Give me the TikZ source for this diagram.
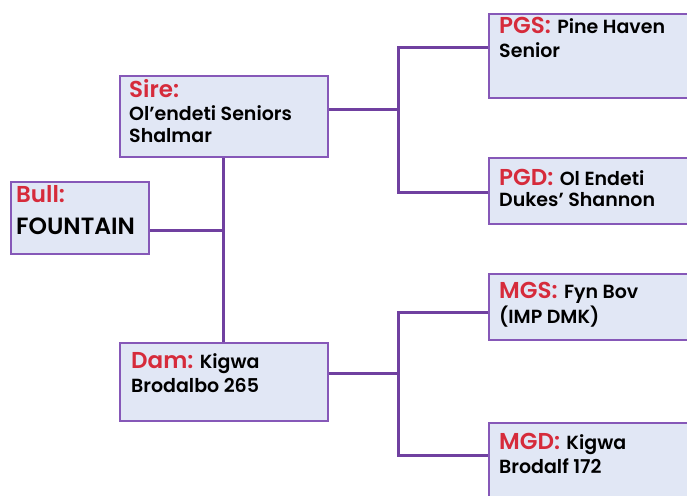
\documentclass[tikz,border=0pt]{standalone}
\usepackage{fontspec}
\setmainfont{Poppins}
\IfFontExistsTF{Poppins SemiBold}
  {\newfontfamily\blackfont{Poppins SemiBold}}
  {\newfontfamily\blackfont{Poppins}[UprightFont=*-Bold]}
\definecolor{lineC}{HTML}{7040A0}
\definecolor{borderC}{HTML}{8658B8}
\definecolor{fillC}{HTML}{E1E7F5}
\definecolor{redC}{HTML}{D62B3B}
\tikzset{
  box/.style={draw=borderC, line width=2pt, fill=fillC, anchor=north west, inner sep=0pt},
  conn/.style={draw=lineC, line width=3pt},
  lbl/.style={anchor=base west, inner sep=0pt, text=redC, font=\blackfont\fontsize{23}{28}\selectfont},
  txt/.style={anchor=base west, inner sep=0pt, text=black, font=\blackfont\fontsize{19}{23}\selectfont},
}
\begin{document}
\begin{tikzpicture}[x=1pt,y=-1pt]
\useasboundingbox (0,0) rectangle (687,495);
% boxes
\node[box, minimum width=138, minimum height=72] (bull) at (10,181) {};
\node[box, minimum width=208, minimum height=81] (sire) at (119,75) {};
\node[box, minimum width=208, minimum height=78] (dam) at (119,342) {};
\node[box, minimum width=200, minimum height=84] (pgs) at (488,13) {};
\node[box, minimum width=200, minimum height=66] (pgd) at (488,157) {};
\node[box, minimum width=200, minimum height=66] (mgs) at (488,273) {};
\node[box, minimum width=200, minimum height=80] (mgd) at (488,422) {};
% junction coordinates
\coordinate (jL) at (223,230);
\coordinate (jT) at (398,48);
\coordinate (jTm) at (398,109);
\coordinate (jB) at (398,373);
% connectors
\draw[conn] (bull.east |- jL) -- (jL);
\draw[conn] (sire.south -| jL) -- (dam.north -| jL);
\draw[conn] (sire.east |- jTm) -- (jTm);
\draw[conn] (pgs.west |- jT) -| (398,192) -- (pgd.west |- 0,192);
\draw[conn] (dam.east |- jB) -- (jB);
\draw[conn] (mgs.west |- 0,312) -| (398,455) -- (mgd.west |- 0,455);
% texts
\node[lbl] (bullL) at (16,202) {Bull:};
\node[txt, font=\blackfont\fontsize{23.5}{28}\selectfont] (bullT) at (16,234) {FOUNTAIN};
\node[lbl] (sireL) at (129,97) {Sire:};
\node[txt] (sireT1) at (129,120) {Ol’endeti Seniors};
\node[txt] (sireT2) at (129,142) {Shalmar};
\node[lbl] (damL) at (131,368) {Dam:};
\node[txt] (damT1) at (damL.base east) [anchor=base west, xshift=6pt] {Kigwa};
\node[txt] (damT2) at (131,392) {Brodalbo 265};
\node[lbl] (pgsL) at (499,34) {PGS:};
\node[txt] (pgsT1) at (pgsL.base east) [anchor=base west, xshift=6pt] {Pine Haven};
\node[txt] (pgsT2) at (499,57) {Senior};
\node[lbl] (pgdL) at (499,185) {PGD:};
\node[txt] (pgdT1) at (pgdL.base east) [anchor=base west, xshift=6pt] {Ol Endeti};
\node[txt] (pgdT2) at (499,206) {Dukes’ Shannon};
\node[lbl] (mgsL) at (499,298) {MGS:};
\node[txt] (mgsT1) at (mgsL.base east) [anchor=base west, xshift=6pt] {Fyn Bov};
\node[txt] (mgsT2) at (499,323) {(IMP DMK)};
\node[lbl] (mgdL) at (499,449) {MGD:};
\node[txt] (mgdT1) at (mgdL.base east) [anchor=base west, xshift=6pt] {Kigwa};
\node[txt] (mgdT2) at (499,473) {Brodalf 172};
\end{tikzpicture}
\end{document}
